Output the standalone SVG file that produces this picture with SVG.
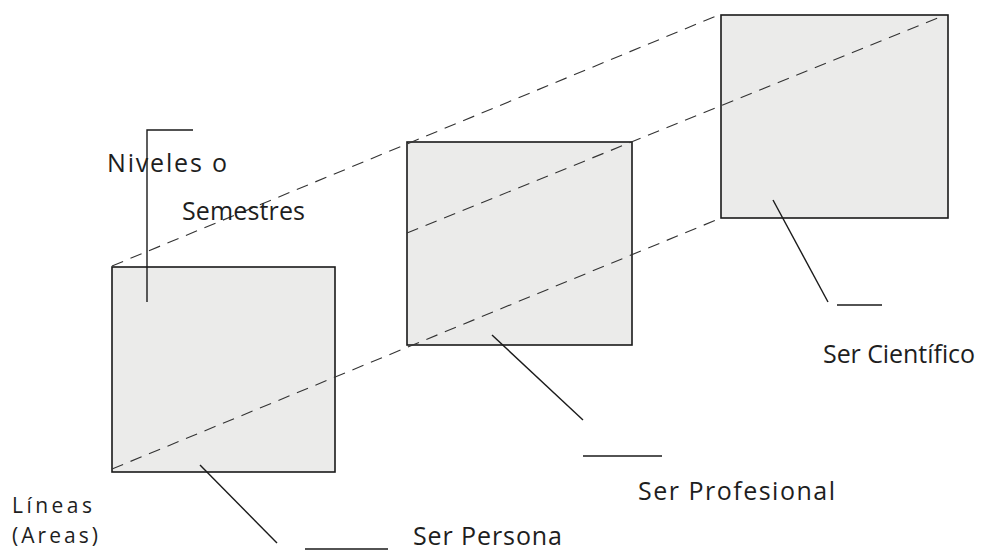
<svg xmlns="http://www.w3.org/2000/svg" width="1003" height="552" viewBox="0 0 1003 552">
<style>
.box{fill:#ebebea;stroke:#1a1a1a;stroke-width:1.6}
.dash{fill:none;stroke:#333333;stroke-width:1.1;stroke-dasharray:12 8}
.lead{fill:none;stroke:#1a1a1a;stroke-width:1.4}
.lbl{font-family:"Open Sans","Liberation Sans",sans-serif;font-size:25px;fill:#1e1e1e}
.sm{font-size:21px}
</style>
<rect width="1003" height="552" fill="#ffffff"/>
<g id="box-persona"><rect class="box" x="112" y="267" width="223" height="205"/></g>
<g id="box-profesional"><rect class="box" x="407" y="142" width="225" height="203"/></g>
<g id="box-cientifico"><rect class="box" x="721" y="15" width="227" height="203"/></g>
<g id="connectors">
<line class="dash" x1="112" y1="266" x2="721" y2="14"/>
<line class="dash" x1="407" y1="233" x2="940" y2="17"/>
<line class="dash" x1="112" y1="469" x2="721" y2="218"/>
<polyline class="lead" points="193,130 147,130 147,302"/>
<line class="lead" x1="200" y1="465" x2="277" y2="543"/>
<line class="lead" x1="305" y1="549" x2="388" y2="549"/>
<line class="lead" x1="492" y1="335" x2="583" y2="420"/>
<line class="lead" x1="583" y1="456" x2="662" y2="456"/>
<line class="lead" x1="773" y1="200" x2="828" y2="302"/>
<line class="lead" x1="837" y1="305" x2="882" y2="305"/>
</g>
<g id="labels">
<text class="lbl" x="107" y="172" textLength="120">Niveles o</text>
<text class="lbl" x="182" y="220" textLength="123">Semestres</text>
<text class="lbl sm" x="12" y="513" textLength="80">Líneas</text>
<text class="lbl sm" x="12" y="543" textLength="86">(Areas)</text>
<text class="lbl" x="413" y="545" textLength="149">Ser Persona</text>
<text class="lbl" x="638" y="500" textLength="197">Ser  Profesional</text>
<text class="lbl" x="823" y="363" textLength="152">Ser Científico</text>
</g>
</svg>
